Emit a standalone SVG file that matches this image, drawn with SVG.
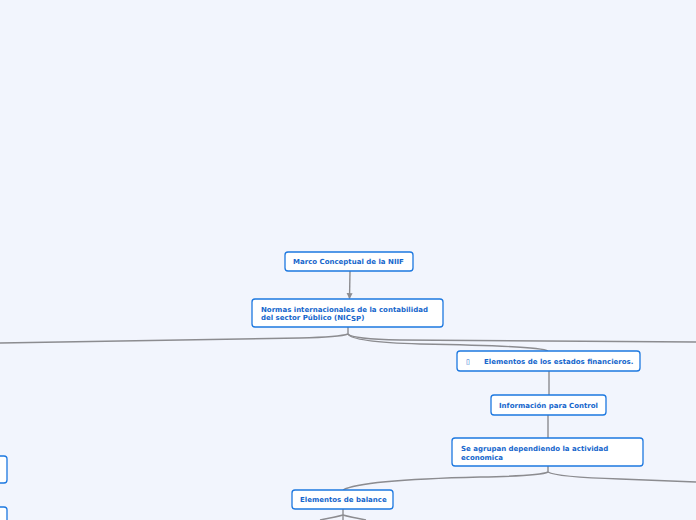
<svg xmlns="http://www.w3.org/2000/svg" width="696" height="520" viewBox="0 0 696 520">
<defs>
<style>
.bg{fill:#f2f5fd}
.box{fill:#ffffff;stroke:#1d78e0;stroke-width:1.3}
.t{font-family:"DejaVu Sans",Verdana,sans-serif;font-size:7px;font-weight:bold;fill:#1566cc}
.c{fill:none;stroke:#8c8c90;stroke-width:1.4}
</style>
<marker id="ah" viewBox="0 0 10 10" refX="9" refY="5" markerWidth="6" markerHeight="8" orient="auto" markerUnits="userSpaceOnUse">
<path d="M0,0 L10,5 L0,10 z" fill="#8c8c90"/>
</marker>
</defs>
<rect class="bg" x="0" y="0" width="696" height="520"/>
<g id="connectors">
<path class="c" d="M350,271 L349.5,298.5" marker-end="url(#ah)"/>
<path class="c" d="M348,327 L348,334 Q340,337 300,338 L0,343"/>
<path class="c" d="M348,334 Q352,339 400,340 L696,342"/>
<path class="c" d="M348,334 Q352,342 420,344 Q540,346 548,351"/>
<path class="c" d="M549,371 L549,395"/>
<path class="c" d="M548,415 L548,438"/>
<path class="c" d="M548,466 L548,472 Q540,476 480,477 Q360,480 343,490"/>
<path class="c" d="M548,472 Q556,477 620,479 L696,482"/>
<path class="c" d="M343,509 L343,520"/>
<path class="c" d="M343,515 Q336,517 320,520"/>
<path class="c" d="M343,515 Q350,517 366,520"/>
</g>
<g id="n1">
<rect class="box" x="285" y="252" width="128" height="19" rx="3"/>
<text class="t" x="293" y="264">Marco Conceptual de la NIIF</text>
</g>
<g id="n2">
<rect class="box" x="252" y="299" width="191" height="28" rx="3"/>
<text class="t" x="261" y="312">Normas internacionales de la contabilidad</text>
<text class="t" x="261" y="320">del sector Público (NIC<tspan dy="1">SP</tspan><tspan dy="-1">)</tspan></text>
</g>
<g id="n3">
<rect class="box" x="457" y="351" width="183" height="20" rx="3"/>
<text class="t" x="466" y="364">▯</text>
<text class="t" x="484" y="364">Elementos de los estados financieros.</text>
</g>
<g id="n4">
<rect class="box" x="491" y="395" width="115" height="20" rx="3"/>
<text class="t" x="499" y="408">Información para Control</text>
</g>
<g id="n5">
<rect class="box" x="452" y="438" width="191" height="28" rx="3"/>
<text class="t" x="461" y="451">Se agrupan dependiendo la actividad</text>
<text class="t" x="461" y="460">economica</text>
</g>
<g id="n6">
<rect class="box" x="292" y="490" width="101" height="19" rx="3"/>
<text class="t" x="300" y="502">Elementos de balance</text>
</g>
<g id="n7">
<rect class="box" x="-20" y="456" width="27" height="27" rx="3"/>
</g>
<g id="n8">
<rect class="box" x="-20" y="507" width="27" height="27" rx="3"/>
</g>
</svg>
